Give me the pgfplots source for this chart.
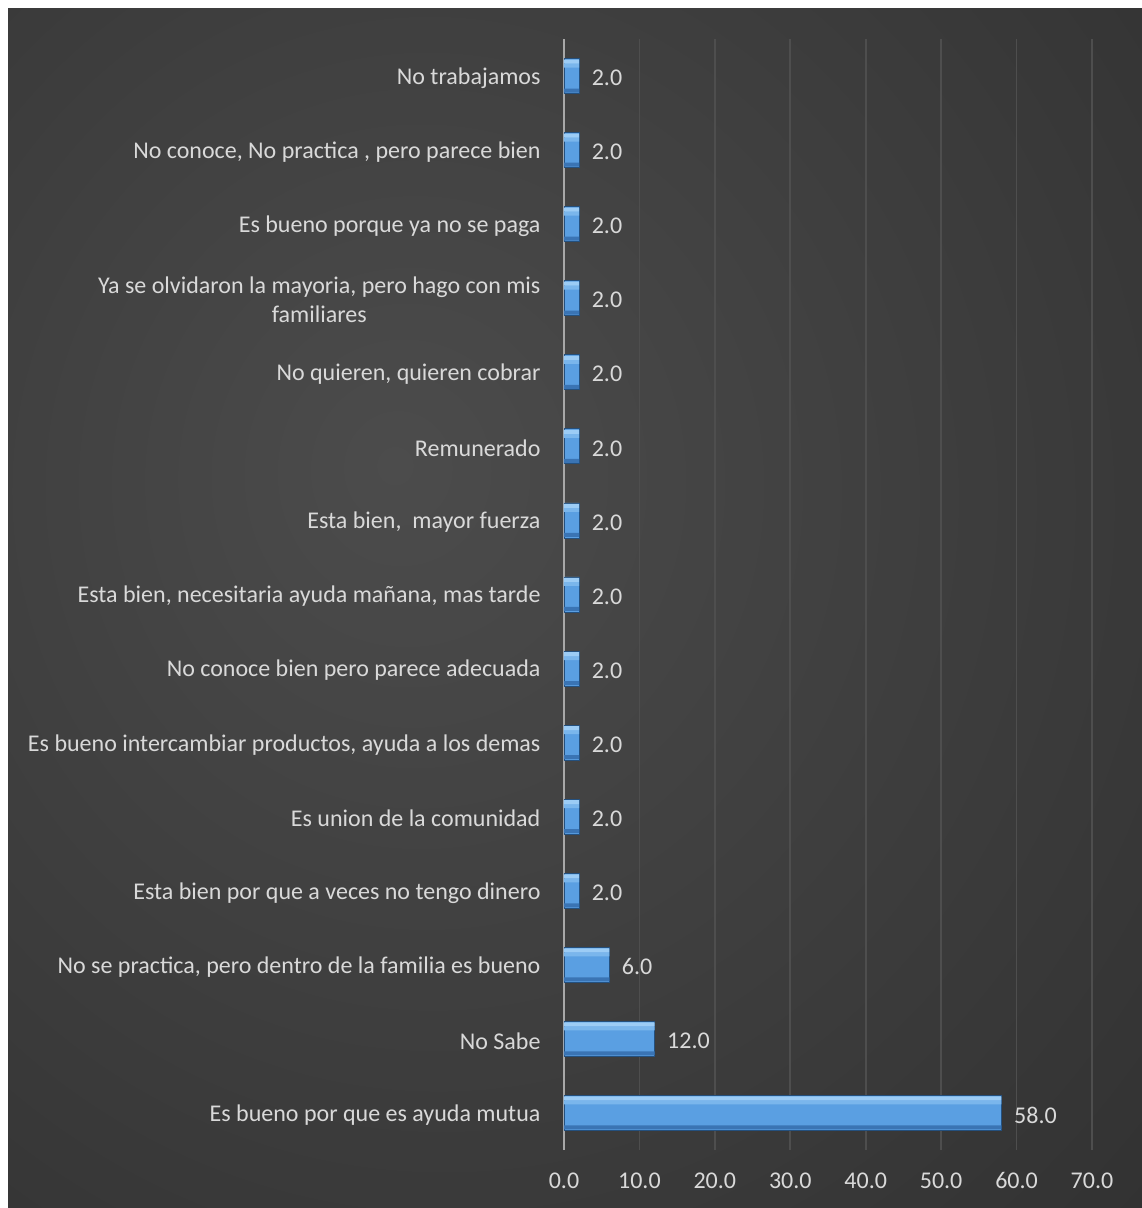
\documentclass[border=0pt]{standalone}
\usepackage{pgfplots}
\pgfplotsset{compat=1.18}
\usepackage{fontspec}
\setmainfont{Carlito}
\definecolor{bgin}{HTML}{4C4C4C}
\definecolor{bgout}{HTML}{252525}
\definecolor{gridc}{HTML}{4E4E4E}
\definecolor{zeroc}{HTML}{A8A8A8}
\definecolor{txt}{HTML}{D9D9D9}
\definecolor{barmain}{HTML}{5A9FE2}
\definecolor{barlight}{HTML}{9CCCF5}
\definecolor{barmid}{HTML}{7AB6EC}
\definecolor{bardark}{HTML}{3A74B4}
\definecolor{baredge}{HTML}{24507E}
\pgfdeclareradialshading{bgshade}{\pgfpoint{-8bp}{6bp}}{color(0bp)=(bgin); color(62bp)=(bgout); color(100bp)=(bgout)}
\begin{document}
\begin{tikzpicture}[x=1pt,y=1pt]
\fill[white] (0pt,0pt) rectangle (1142pt,1208pt);
\shade[shading=bgshade] (8pt,0pt) rectangle (1142pt,1199pt);
\begin{axis}[
  at={(564pt,58pt)}, anchor=south west,
  scale only axis, width=528pt, height=1111pt,
  xmin=0, xmax=70, ymin=-0.5, ymax=14.5,
  xtick={0,10,...,70},
  ytick={0,1,...,14},
  yticklabels={
    Es bueno por que es ayuda mutua,
    No Sabe,
    {No se practica, pero dentro de la familia es bueno},
    Esta bien por que a veces no tengo dinero,
    Es union de la comunidad,
    {Es bueno intercambiar productos, ayuda a los demas},
    No conoce bien pero parece adecuada,
    {Esta bien, necesitaria ayuda mañana, mas tarde},
    {Esta bien, \ mayor fuerza},
    Remunerado,
    {No quieren, quieren cobrar},
    {Ya se olvidaron la mayoria, pero hago con mis\\familiares},
    Es bueno porque ya no se paga,
    {No conoce, No practica , pero parece bien},
    No trabajamos},
  axis line style={draw=none},
  major tick length=0pt,
  xmajorgrids,
  grid style={draw=gridc, line width=1.6pt},
  extra x ticks={0}, extra x tick labels={},
  extra x tick style={grid style={draw=zeroc, line width=1.8pt}},
  font=\fontsize{24}{29}\selectfont,
  ticklabel style={text=txt},
  yticklabel style={align=center, xshift=-20pt, yshift=-2pt},
  xticklabel style={yshift=-19pt},
  /pgf/number format/assume math mode=true,
  xticklabel={\pgfmathprintnumber[fixed,fixed zerofill,precision=1]{\tick}},
  xbar, bar width=35pt,
  clip=false,
]
\addplot[bar shift=0pt, draw=baredge, line width=0.8pt, fill=barmain,
  nodes near coords={\pgfmathprintnumber[fixed,fixed zerofill,precision=1]{\pgfplotspointmeta}},
  nodes near coords style={text=txt, xshift=9pt, yshift=-2pt, font=\fontsize{24}{29}\selectfont}]
coordinates {
(58,0) (12,1) (6,2) (2,3) (2,4) (2,5) (2,6) (2,7) (2,8) (2,9) (2,10) (2,11) (2,12) (2,13) (2,14)
};
\addplot[bar shift=10.5pt, bar width=4pt, draw=none, fill=barmid]
coordinates {
(58,0) (12,1) (6,2) (2,3) (2,4) (2,5) (2,6) (2,7) (2,8) (2,9) (2,10) (2,11) (2,12) (2,13) (2,14)
};
\addplot[bar shift=14.5pt, bar width=4pt, draw=none, fill=barlight]
coordinates {
(58,0) (12,1) (6,2) (2,3) (2,4) (2,5) (2,6) (2,7) (2,8) (2,9) (2,10) (2,11) (2,12) (2,13) (2,14)
};
\addplot[bar shift=-14.5pt, bar width=4pt, draw=none, fill=bardark]
coordinates {
(58,0) (12,1) (6,2) (2,3) (2,4) (2,5) (2,6) (2,7) (2,8) (2,9) (2,10) (2,11) (2,12) (2,13) (2,14)
};
\end{axis}
\pgfresetboundingbox
\path (0pt,0pt) rectangle (1142pt,1208pt);
\end{tikzpicture}
\end{document}
